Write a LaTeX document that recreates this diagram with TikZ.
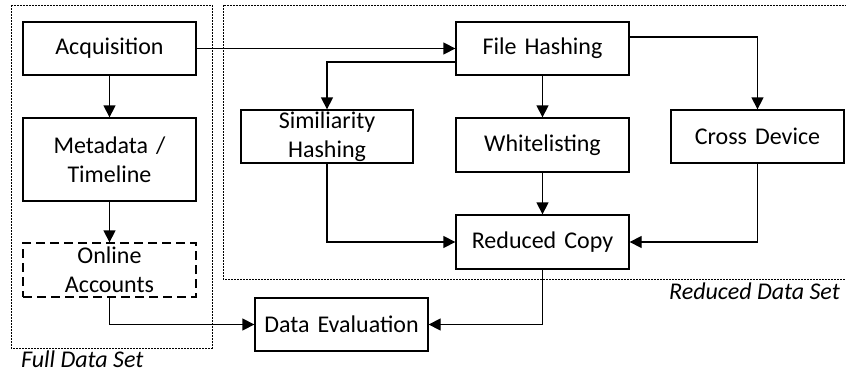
\documentclass[tikz,border=0pt]{standalone}
\usepackage{fontspec}
\setmainfont{Carlito}
\usetikzlibrary{arrows.meta}
\begin{document}
\begin{tikzpicture}[x=1pt,y=-1pt,
  every node/.style={font=\fontsize{24}{29}\selectfont},
  stagebox/.style={draw, line width=1.3pt, inner sep=0pt, minimum width=173pt,
    minimum height=53pt, text width=170pt, align=center},
  optbox/.style={stagebox, dash pattern=on 9pt off 5pt},
  groupbox/.style={draw, line width=1pt, dash pattern=on 2pt off 1pt},
  flow/.style={line width=1.3pt, -{Triangle[length=12pt,width=12pt]}},
  grouplabel/.style={font=\fontsize{24}{29}\selectfont\itshape, inner sep=0pt}]
\path[use as bounding box, clip] (0,0) rectangle (846,372);

% data set groupings
\draw[groupbox] (11,5) rectangle (212,348);
\draw[groupbox] (223,5) rectangle (870,279);
\node[grouplabel, anchor=base west] (fullset) at (21,367) {Full Data Set};
\node[grouplabel, anchor=base east] (redset) at (840,299) {Reduced Data Set};

% processing stages
\node[stagebox] (acq) at (109.5,48.5) {Acquisition};
\node[stagebox, minimum height=83pt] (meta) at (109.5,159.5) {Metadata /\\Timeline};
\node[optbox, minimum height=54pt] (online) at (109.5,270) {Online\\Accounts};
\node[stagebox] (eval) at (341.5,324.5) {Data Evaluation};
\node[stagebox, minimum width=172pt] (sim) at (327,136.5) {Similiarity\\Hashing};
\node[stagebox] (fh) at (542.5,48.5) {File Hashing};
\node[stagebox, minimum height=54pt] (white) at (542.5,145) {Whitelisting};
\node[stagebox] (cross) at (757.5,136.5) {Cross Device};
\node[stagebox, minimum height=54pt] (rc) at (542.5,242) {Reduced Copy};

% connections
\draw[flow] (acq.east) -- (fh.west);
\draw[flow] (acq.south) -- (meta.north);
\draw[flow] (meta.south) -- (online.north);
\draw[flow] ([yshift=-13.5pt]fh.west) -| (sim.north);
\draw[flow] (fh.south) -- (white.north);
\draw[flow] ([yshift=11.5pt]fh.east) -| (cross.north);
\draw[flow] (sim.south) |- (rc.west);
\draw[flow] (white.south) -- (rc.north);
\draw[flow] (cross.south) |- (rc.east);
\draw[flow] (rc.south) |- (eval.east);
\draw[flow] (online.south) |- (eval.west);
\end{tikzpicture}
\end{document}
